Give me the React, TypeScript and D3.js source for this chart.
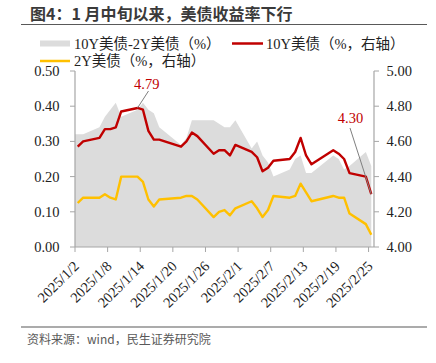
import React from "react";
import * as d3 from "d3";

const dates = [
  "2025-01-02","2025-01-03","2025-01-06","2025-01-07","2025-01-08","2025-01-09","2025-01-10",
  "2025-01-13","2025-01-14","2025-01-15","2025-01-16","2025-01-17",
  "2025-01-21","2025-01-22","2025-01-23","2025-01-24",
  "2025-01-27","2025-01-28","2025-01-29","2025-01-30","2025-01-31",
  "2025-02-03","2025-02-04","2025-02-05","2025-02-06","2025-02-07",
  "2025-02-10","2025-02-11","2025-02-12","2025-02-13","2025-02-14",
  "2025-02-18","2025-02-19","2025-02-20","2025-02-21",
  "2025-02-24","2025-02-25",
];
const us10y = [
  4.57,4.60,4.62,4.67,4.67,4.68,4.77,
  4.79,4.78,4.66,4.61,4.61,
  4.57,4.60,4.65,4.63,
  4.53,4.55,4.55,4.52,4.58,
  4.54,4.51,4.43,4.45,4.49,
  4.50,4.54,4.62,4.52,4.47,
  4.55,4.53,4.50,4.42,
  4.40,4.30,
];
const us2y = [
  4.25,4.28,4.28,4.30,4.28,4.27,4.40,
  4.40,4.37,4.27,4.23,4.27,
  4.28,4.29,4.29,4.27,
  4.17,4.20,4.21,4.18,4.22,
  4.26,4.22,4.17,4.21,4.29,
  4.28,4.29,4.36,4.31,4.26,
  4.29,4.28,4.28,4.19,
  4.13,4.07,
];
const spread = [
  0.32,0.32,0.34,0.37,0.39,0.41,0.37,
  0.39,0.41,0.39,0.38,0.34,
  0.29,0.31,0.36,0.36,
  0.36,0.35,0.34,0.34,0.36,
  0.28,0.30,0.26,0.24,0.20,
  0.22,0.25,0.26,0.21,0.21,
  0.26,0.25,0.22,0.23,
  0.27,0.23,
];
const tickDates = [
  "2025-01-02","2025-01-08","2025-01-14","2025-01-20","2025-01-26",
  "2025-02-01","2025-02-07","2025-02-13","2025-02-19","2025-02-25",
];
const tickLabels = [
  "2025/1/2","2025/1/8","2025/1/14","2025/1/20","2025/1/26",
  "2025/2/1","2025/2/7","2025/2/13","2025/2/19","2025/2/25",
];
const leftTicks = [0, 0.1, 0.2, 0.3, 0.4, 0.5];
const rightTicks = [4.0, 4.2, 4.4, 4.6, 4.8, 5.0];
const legendItems = ["10Y美债-2Y美债（%）", "10Y美债（%，右轴）", "2Y美债（%，右轴）"];
const title = "图4：1 月中旬以来，美债收益率下行";
const source = "资料来源：wind，民生证券研究院";
const labelPeak = "4.79";
const labelLast = "4.30";

const parse = (s: string) => {
  const [y, m, d] = s.split("-").map(Number);
  return new Date(y, m - 1, d);
};

const GRAY = "#DCDCDC";
const RED = "#C00000";
const ORANGE = "#FFC000";
const AXIS = "#A6A6A6";
const SERIF = "'Liberation Serif', 'Times New Roman', 'Noto Sans CJK SC', serif";
const SANS = "'Noto Sans CJK SC', 'Noto Sans', sans-serif";
const FS = 14.5;

export default function App() {
  const W = 436, H = 363;
  const L = 75, R = 374, T = 71, B = 247;
  const x = d3.scaleTime().domain([parse("2025-01-02"), parse("2025-02-26")]).range([L, R]);
  const xc = (s: string) => x(d3.timeHour.offset(parse(s), 12));
  const yL = d3.scaleLinear().domain([0, 0.5]).range([B, T]);
  const yR = d3.scaleLinear().domain([4, 5]).range([B, T]);

  const idx = d3.range(dates.length);
  const areaPts: [number, number][] = [[L, yL(spread[0])], ...idx.map((i) => [xc(dates[i]), yL(spread[i])] as [number, number])];
  const areaPath = d3.area<[number, number]>().x((p) => p[0]).y0(B).y1((p) => p[1])(areaPts);
  const line10 = d3.line<number>().x((i) => xc(dates[i])).y((i) => yR(us10y[i]));
  const line2 = d3.line<number>().x((i) => xc(dates[i])).y((i) => yR(us2y[i]));

  const peakI = us10y.indexOf(d3.max(us10y) as number);
  const lastI = dates.length - 1;

  return (
    <svg width={W} height={H} style={{ position: "absolute", left: 0, top: 0, background: "#fff" }}>
      <text x={30} y={20} fontFamily={SANS} fontWeight="bold" fontSize={16} fill="#3a3a3a">{title}</text>
      <line x1={21} x2={427} y1={24.5} y2={24.5} stroke="#595959" strokeWidth={1.2} />

      {/* legend */}
      <rect x={40} y={40.5} width={30} height={6} fill={GRAY} />
      <text x={74} y={48.5} fontFamily={SERIF} fontSize={FS} fill="#222">{legendItems[0]}</text>
      <line x1={232} x2={263} y1={43.5} y2={43.5} stroke={RED} strokeWidth={2.5} />
      <text x={266} y={48.5} fontFamily={SERIF} fontSize={FS} fill="#222">{legendItems[1]}</text>
      <line x1={40} x2={70} y1={61} y2={61} stroke={ORANGE} strokeWidth={2.5} />
      <text x={74} y={66} fontFamily={SERIF} fontSize={FS} fill="#222">{legendItems[2]}</text>

      <path d={areaPath as string} fill={GRAY} />
      <path d={line10(idx) as string} fill="none" stroke={RED} strokeWidth={2.4} strokeLinejoin="round" />
      <path d={line2(idx) as string} fill="none" stroke={ORANGE} strokeWidth={2.4} strokeLinejoin="round" />

      {/* left axis */}
      <line x1={L} x2={L} y1={T} y2={B} stroke={AXIS} strokeWidth={1.2} />
      {leftTicks.map((v) => (
        <g key={v}>
          <line x1={L - 5} x2={L} y1={yL(v)} y2={yL(v)} stroke={AXIS} strokeWidth={1} />
          <text x={59.5} y={yL(v) + 5} textAnchor="end" fontFamily={SERIF} fontSize={FS} fill="#222">{v.toFixed(2)}</text>
        </g>
      ))}
      {/* right axis */}
      <line x1={R} x2={R} y1={T} y2={B} stroke={AXIS} strokeWidth={1.2} />
      {rightTicks.map((v) => (
        <g key={v}>
          <line x1={R} x2={R + 5} y1={yR(v)} y2={yR(v)} stroke={AXIS} strokeWidth={1} />
          <text x={386.5} y={yR(v) + 5} fontFamily={SERIF} fontSize={FS} fill="#222">{v.toFixed(2)}</text>
        </g>
      ))}
      {/* bottom axis */}
      <line x1={L} x2={R} y1={B} y2={B} stroke={AXIS} strokeWidth={1.2} />
      {tickDates.map((d, i) => {
        const tx = x(parse(d));
        return (
          <g key={d}>
            <line x1={tx} x2={tx} y1={B} y2={B + 5} stroke={AXIS} strokeWidth={1} />
            <text transform={`translate(${tx + 5},${B + 20}) rotate(-45)`} textAnchor="end" fontFamily={SERIF} fontSize={FS} fill="#222">{tickLabels[i]}</text>
          </g>
        );
      })}

      {/* annotations */}
      <line x1={148.5} y1={91} x2={xc(dates[peakI])} y2={yR(us10y[peakI])} stroke="#7f7f7f" strokeWidth={1} />
      <text x={146.7} y={89} textAnchor="middle" fontFamily={SERIF} fontSize={FS} fill={RED}>{labelPeak}</text>
      <line x1={350} y1={128} x2={xc(dates[lastI])} y2={yR(us10y[lastI])} stroke="#7f7f7f" strokeWidth={1} />
      <text x={350.5} y={122.7} textAnchor="middle" fontFamily={SERIF} fontSize={FS} fill={RED}>{labelLast}</text>

      <line x1={21} x2={427} y1={327} y2={327} stroke="#595959" strokeWidth={1.2} />
      <text x={27} y={344} fontFamily={SANS} fontSize={12} fill="#595959">{source}</text>
    </svg>
  );
}
